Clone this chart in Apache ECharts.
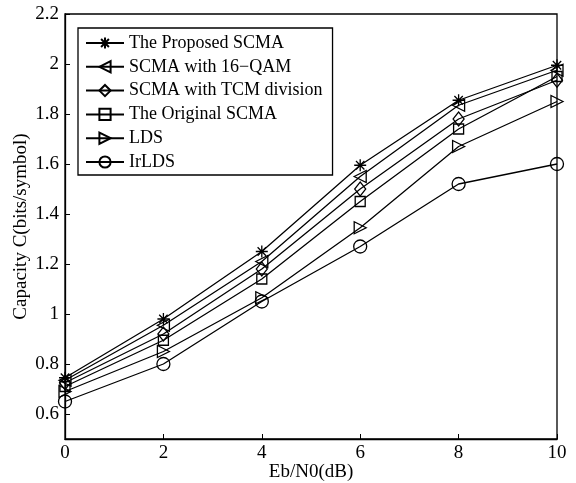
<!DOCTYPE html>
<html lang="en" style="height: 100%">

<head>
  <meta charset="utf-8">
</head>

<body style="height: 100%; margin: 0; background: #fff">
  <div id="container" style="width: 576px; height: 483px"></div>

  <script type="text/javascript" src="https://cdn.jsdelivr.net/npm/echarts@6/dist/echarts.min.js"></script>

  <script type="text/javascript">
    var dom = document.getElementById('container');
    var myChart = echarts.init(dom, null, { renderer: 'canvas' });

    // Eb/N0 in dB
    var snr = [0, 2, 4, 6, 8, 10];

    var proposed = [0.745, 0.98, 1.25, 1.595, 1.855, 1.995];
    var qam16 = [0.735, 0.955, 1.21, 1.55, 1.835, 1.975];
    var tcm = [0.725, 0.92, 1.18, 1.5, 1.78, 1.935];
    var original = [0.71, 0.895, 1.14, 1.45, 1.74, 1.95];
    var lds = [0.69, 0.85, 1.065, 1.345, 1.67, 1.85];
    var irlds = [0.65, 0.80, 1.05, 1.27, 1.52, 1.60];

    var names = ['The Proposed SCMA', 'SCMA with 16\u2212QAM', 'SCMA with TCM division',
      'The Original SCMA', 'LDS', 'IrLDS'];

    // y ticks (axis starts at 0.5, labels from 0.6)
    var yTicks = [0.6, 0.8, 1, 1.2, 1.4, 1.6, 1.8, 2, 2.2];

    var font = '"Liberation Serif", "DejaVu Serif", serif';

    // hollow matlab-like markers
    var markers = [
      { symbol: 'path://M0,-1L0,1M-1,0L1,0M-0.7,-0.7L0.7,0.7M-0.7,0.7L0.7,-0.7', size: 12 },
      { symbol: 'path://M-1,0L1,-1L1,1Z', size: 12 },
      { symbol: 'diamond', size: [11, 14] },
      { symbol: 'rect', size: 10 },
      { symbol: 'path://M1,0L-1,-1L-1,1Z', size: 12 },
      { symbol: 'circle', size: 13 }
    ];

    var allData = [proposed, qam16, tcm, original, lds, irlds];

    function makeSeries(i) {
      return {
        name: names[i],
        type: 'line',
        data: snr.map(function (x, k) { return [x, allData[i][k]]; }),
        symbol: markers[i].symbol,
        symbolSize: markers[i].size,
        showAllSymbol: true,
        lineStyle: { color: '#000', width: 1.3 },
        itemStyle: { color: 'rgba(0,0,0,0)', borderColor: '#000', borderWidth: 1.3 },
        emphasis: { disabled: true },
        animation: false
      };
    }

    var option = {
      backgroundColor: '#fff',
      grid: {
        left: 65,
        right: 19,
        top: 14,
        bottom: 44,
        outerBoundsMode: 'none',
        containLabel: false,
        show: true,
        borderColor: '#000',
        borderWidth: 1.3,
        backgroundColor: 'transparent'
      },
      legend: {
        orient: 'vertical',
        left: 78,
        top: 28,
        padding: [6, 10, 4, 7],
        borderColor: '#000',
        borderWidth: 1.3,
        backgroundColor: '#fff',
        itemWidth: 38,
        itemHeight: 14,
        itemGap: 5.8,
        textStyle: { fontFamily: font, fontSize: 18, color: '#000' },
        data: names
      },
      xAxis: {
        type: 'value',
        min: 0,
        max: 10,
        interval: 2,
        name: 'Eb/N0(dB)',
        nameLocation: 'middle',
        nameGap: 24,
        nameMoveOverlap: false,
        nameTextStyle: { fontFamily: font, fontSize: 19, color: '#000' },
        axisLine: { lineStyle: { color: '#000', width: 1.3 } },
        axisTick: { inside: true, length: 5, lineStyle: { color: '#000' } },
        axisLabel: { fontFamily: font, fontSize: 19, color: '#000', margin: 5 },
        splitLine: { show: false }
      },
      yAxis: {
        type: 'value',
        min: 0.5,
        max: 2.2,
        name: 'Capacity C(bits/symbol)',
        nameLocation: 'middle',
        nameGap: 34,
        nameMoveOverlap: false,
        nameTextStyle: { fontFamily: font, fontSize: 19, color: '#000' },
        axisLine: { lineStyle: { color: '#000', width: 1.3 } },
        axisTick: { inside: true, length: 5, customValues: yTicks, lineStyle: { color: '#000' } },
        axisLabel: {
          fontFamily: font, fontSize: 19, color: '#000', margin: 6,
          customValues: yTicks,
          formatter: function (v) { return String(Math.round(v * 10) / 10); }
        },
        splitLine: { show: false }
      },
      series: [0, 1, 2, 3, 4, 5].map(makeSeries)
    };

    myChart.setOption(option);
    window.addEventListener('resize', myChart.resize);
  </script>
</body>

</html>
